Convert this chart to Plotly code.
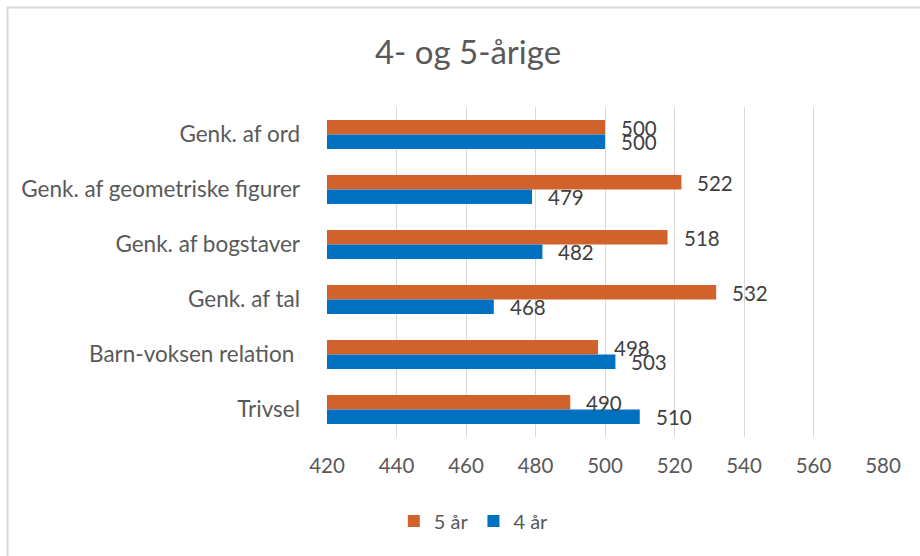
import plotly.graph_objects as go

categories = ["Genk. af ord", "Genk. af geometriske figurer", "Genk. af bogstaver",
              "Genk. af tal", "Barn-voksen relation ", "Trivsel"]
values_5 = [500, 522, 518, 532, 498, 490]
values_4 = [500, 479, 482, 468, 503, 510]
series_names = ["5 år", "4 år"]
x_ticks = [420, 440, 460, 480, 500, 520, 540, 560, 580]
title_text = "4- og 5-årige"

W, H = 920, 556
L, R, T, B = 327, 37, 107, 119
FONT = "Lato, 'Open Sans', sans-serif"
GRAY = "#595959"
ORANGE = "#D2622C"
BLUE = "#0070C0"

fig = go.Figure()
for name, vals, col in [(series_names[0], values_5, ORANGE), (series_names[1], values_4, BLUE)]:
    fig.add_trace(go.Bar(
        y=categories, x=vals, name=name, orientation="h",
        marker=dict(color=col, line=dict(width=0)),
    ))

# data labels
for vals, shift in [(values_5, 7), (values_4, -7)]:
    for c, v in zip(categories, vals):
        fig.add_annotation(x=v, y=c, text=str(v), showarrow=False,
                           xanchor="left", yanchor="middle", xshift=14, yshift=shift,
                           font=dict(family=FONT, size=20.5, color="#404040"))

pw = W - L - R
ph = H - T - B
fig.add_shape(type="rect", xref="paper", yref="paper",
              x0=(7.5 - L) / pw, x1=(W + 10 - L) / pw,
              y0=(T + ph - (H + 10)) / ph, y1=(T + ph - 7.5) / ph,
              line=dict(color="#D9D9D9", width=2), fillcolor="rgba(0,0,0,0)", layer="below")

fig.update_layout(
    width=W, height=H,
    margin=dict(l=L, r=R, t=T, b=B),
    paper_bgcolor="white", plot_bgcolor="white",
    barmode="group", bargap=0.47, bargroupgap=0,
    font=dict(family=FONT, size=20, color=GRAY),
    title=dict(text=title_text, x=0.5 + 8 / W, xanchor="center", xref="container",
               y=1 - 52 / H, yanchor="middle", yref="container",
               font=dict(family=FONT, size=33, color=GRAY)),
    legend=dict(orientation="h", x=0.515, xanchor="center", xref="container",
                y=1 - 521 / H, yanchor="middle", yref="container",
                font=dict(family=FONT, size=20, color=GRAY),
                itemwidth=30, tracegroupgap=0, traceorder="normal"),
    xaxis=dict(range=[420, 580], tickvals=x_ticks, showgrid=True, gridcolor="#D9D9D9",
               gridwidth=1, zeroline=False, showline=False, ticks="",
               tickfont=dict(family=FONT, size=20.5, color=GRAY), ticklabelstandoff=14),
    yaxis=dict(autorange="reversed", showgrid=False, showline=False, ticks="",
               tickfont=dict(family=FONT, size=22.5, color=GRAY), ticklabelstandoff=26),
)

fig.write_html("out.html", config={"displayModeBar": False},
               post_script="document.body.style.margin='0';document.body.style.overflow='hidden';")
